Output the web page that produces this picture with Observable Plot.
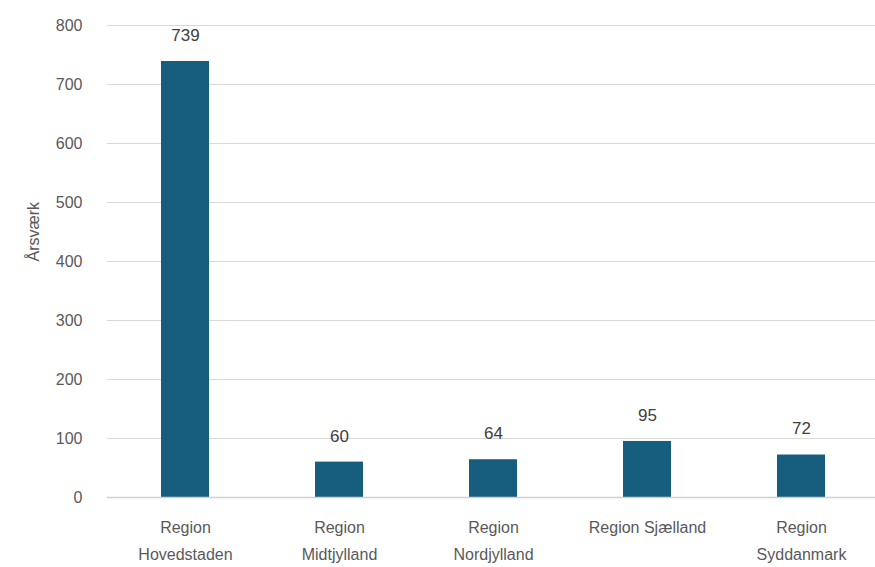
<!DOCTYPE html>
<html>
<head>
<meta charset="utf-8">
<script src="https://cdn.jsdelivr.net/npm/d3@7"></script>
<script src="https://cdn.jsdelivr.net/npm/@observablehq/plot@0.6"></script>
<style>
  html, body { margin: 0; padding: 0; background: #fff; overflow: hidden; }
  #chart { width: 875px; height: 567px; overflow: hidden; }
</style>
</head>
<body>
<div id="chart"></div>
<script>
const regions = ["Region Hovedstaden", "Region Midtjylland", "Region Nordjylland", "Region Sjælland", "Region Syddanmark"];
const tickLabels = ["Region\nHovedstaden", "Region\nMidtjylland", "Region\nNordjylland", "Region Sjælland", "Region\nSyddanmark"];
const values = [739, 60, 64, 95, 72];
const yTicks = [0, 100, 200, 300, 400, 500, 600, 700, 800];

const data = regions.map((r, i) => ({region: r, value: values[i]}));
const labelOf = new Map(regions.map((r, i) => [r, tickLabels[i]]));

const chart = Plot.plot({
  width: 875,
  height: 567,
  marginLeft: 107,
  marginRight: -4,
  marginTop: 25,
  marginBottom: 70,
  style: {fontFamily: "'Liberation Sans', Arial, sans-serif", fontSize: "16px", color: "#595959", background: "#fff"},
  x: {domain: regions, paddingInner: 0.69, paddingOuter: 0.345, label: null},
  y: {domain: [0, 800], ticks: yTicks, label: null},
  marks: [
    Plot.gridY(yTicks, {stroke: "#d9d9d9", strokeOpacity: 1, strokeWidth: 1}),
    Plot.barY(data, {x: "region", y: "value", fill: "#175e7e"}),
    Plot.ruleY([0], {stroke: "#d0d0d0", strokeWidth: 1.3}),
    Plot.text(data, {x: "region", y: "value", text: d => String(d.value), dy: -26, fontSize: 17, fill: "#404040"}),
    Plot.axisY(yTicks, {tickSize: 0, tickPadding: 25, fontSize: 16, fill: "#595959", label: null}),
    Plot.axisX({tickSize: 0, tickPadding: 17, fontSize: 16, fill: "#595959", lineHeight: 1.65, tickFormat: d => labelOf.get(d), label: null}),
    Plot.text(["Årsværk"], {frameAnchor: "left", dx: -74, rotate: -90, fontSize: 16, fill: "#595959"})
  ]
});
document.getElementById("chart").appendChild(chart);
</script>
</body>
</html>
